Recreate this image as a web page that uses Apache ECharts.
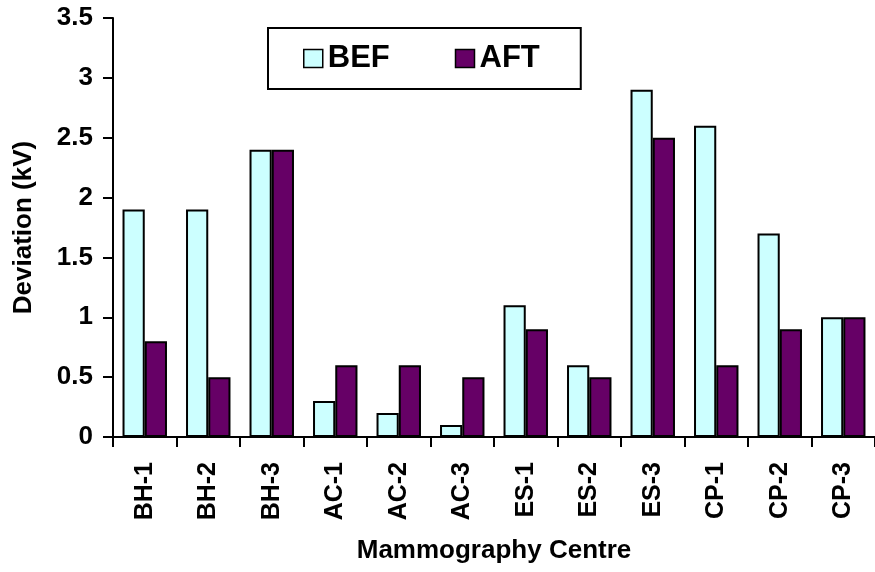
<!DOCTYPE html>
<html>
<head>
<meta charset="utf-8">
<script src="https://cdn.jsdelivr.net/npm/echarts@6/dist/echarts.min.js"></script>
<style>
html,body{margin:0;padding:0;background:#fff;}
#chart{width:875px;height:572px;}
</style>
</head>
<body>
<div id="chart"></div>
<script>
var categories = ['BH-1','BH-2','BH-3','AC-1','AC-2','AC-3','ES-1','ES-2','ES-3','CP-1','CP-2','CP-3'];
var befValues = [1.9, 1.9, 2.4, 0.3, 0.2, 0.1, 1.1, 0.6, 2.9, 2.6, 1.7, 1.0];
var aftValues = [0.8, 0.5, 2.4, 0.6, 0.6, 0.5, 0.9, 0.5, 2.5, 0.6, 0.9, 1.0];
var seriesNames = ['BEF', 'AFT'];
var yTicks = {min: 0, max: 3.5, interval: 0.5};

var FONT = "'Liberation Sans', Arial, sans-serif";
var chart = echarts.init(document.getElementById('chart'), null, {renderer: 'canvas'});
chart.setOption({
  animation: false,
  backgroundColor: '#ffffff',
  textStyle: {fontFamily: FONT},
  grid: {left: 113, top: 18, width: 766, height: 419, containLabel: false},
  legend: {
    left: 268, top: 28,
    data: seriesNames,
    icon: 'rect',
    itemWidth: 19, itemHeight: 18, itemGap: 65,
    padding: [15, 41, 15, 35],
    borderColor: '#000', borderWidth: 2,
    backgroundColor: '#fff',
    textStyle: {fontFamily: FONT, fontWeight: 'bold', fontSize: 31, color: '#000'},
    itemStyle: {borderColor: '#000', borderWidth: 1.5}
  },
  xAxis: {
    type: 'category',
    data: categories,
    name: 'Mammography Centre',
    nameLocation: 'middle',
    nameGap: 101,
    nameTextStyle: {fontFamily: FONT, fontWeight: 'bold', fontSize: 26, color: '#000'},
    axisLine: {lineStyle: {color: '#000', width: 2}},
    axisTick: {show: true, length: 10, lineStyle: {color: '#000', width: 2}},
    axisLabel: {rotate: 90, margin: 25, interval: 0, fontFamily: FONT, fontWeight: 'bold', fontSize: 25, color: '#000'},
    splitLine: {show: false}
  },
  yAxis: {
    type: 'value',
    min: yTicks.min, max: yTicks.max, interval: yTicks.interval,
    name: 'Deviation (kV)',
    nameLocation: 'middle',
    nameGap: 76,
    nameTextStyle: {fontFamily: FONT, fontWeight: 'bold', fontSize: 26, color: '#000'},
    axisLine: {show: true, lineStyle: {color: '#000', width: 2}},
    axisTick: {show: true, length: 10, lineStyle: {color: '#000', width: 2}},
    axisLabel: {margin: 20, fontFamily: FONT, fontWeight: 'bold', fontSize: 26, color: '#000'},
    splitLine: {show: false}
  },
  series: [
    {
      name: seriesNames[0], type: 'bar', data: befValues,
      barGap: '0%', barCategoryGap: '30%',
      itemStyle: {color: '#CCFFFF', borderColor: '#000', borderWidth: 2}
    },
    {
      name: seriesNames[1], type: 'bar', data: aftValues,
      barGap: '0%', barCategoryGap: '30%',
      itemStyle: {color: '#660066', borderColor: '#000', borderWidth: 2}
    }
  ]
});
</script>
</body>
</html>
